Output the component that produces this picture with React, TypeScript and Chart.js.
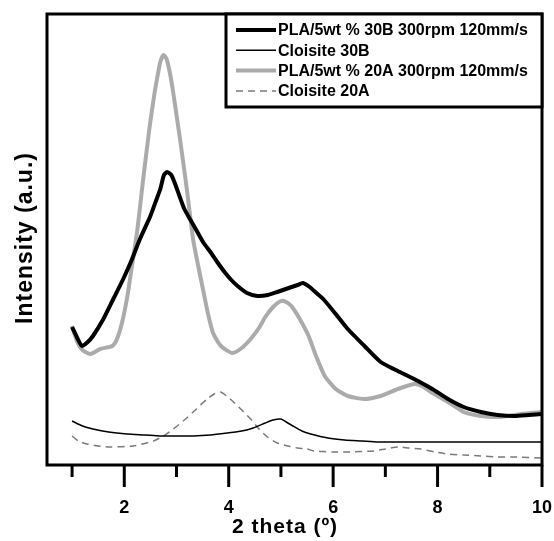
import { useEffect, useRef } from "react";
import { Chart, registerables } from "chart.js";

Chart.register(...registerables);

// 2 theta (deg) vs intensity (a.u.)
const pla30B: [number, number][] = [
  [1.0, 138], [1.1, 127], [1.19, 119], [1.3, 123], [1.4, 129], [1.6, 146], [1.79, 166], [1.98, 186],
  [2.15, 206], [2.3, 226], [2.5, 249], [2.62, 266], [2.69, 276], [2.76, 290], [2.82, 293], [2.9, 290], [2.96, 283],
  [3.05, 270], [3.15, 256], [3.28, 244], [3.4, 233], [3.52, 222], [3.65, 213], [3.78, 203], [3.92, 193],
  [4.05, 185], [4.17, 179], [4.35, 172], [4.55, 169], [4.75, 170], [4.93, 173], [5.15, 177], [5.32, 180],
  [5.42, 182], [5.55, 178], [5.68, 172], [5.81, 166], [6.05, 151], [6.28, 136], [6.6, 119], [6.91, 103],
  [7.2, 95], [7.55, 86], [7.9, 76], [8.2, 66], [8.5, 58], [8.83, 53], [9.15, 50], [9.47, 49], [9.75, 50], [10.0, 51],
];

const cloisite30B: [number, number][] = [
  [1.0, 44], [1.2, 39], [1.4, 36], [1.7, 33], [2.06, 31], [2.4, 30], [2.69, 29], [3.0, 29], [3.32, 29],
  [3.65, 30], [3.97, 32], [4.25, 34], [4.47, 37], [4.7, 42], [4.85, 45], [5.0, 46], [5.1, 43], [5.23, 39],
  [5.4, 34], [5.57, 31], [5.9, 27], [6.22, 25], [6.55, 24], [6.86, 23], [7.5, 23], [8.0, 23], [8.5, 23],
  [9.0, 23], [9.5, 23], [10.0, 23],
];

const pla20A: [number, number][] = [
  [1.0, 139], [1.1, 123], [1.2, 115], [1.35, 111], [1.54, 116], [1.77, 119], [1.86, 126], [1.96, 143],
  [2.06, 169], [2.15, 200], [2.25, 235], [2.36, 285], [2.49, 340], [2.58, 372], [2.63, 387], [2.69, 403],
  [2.75, 410], [2.81, 406], [2.87, 393], [2.93, 375], [3.0, 350], [3.07, 325], [3.2, 275], [3.32, 225],
  [3.42, 198], [3.51, 175], [3.6, 152], [3.7, 132], [3.85, 119], [4.07, 112], [4.25, 117], [4.42, 126],
  [4.58, 137], [4.7, 148], [4.85, 158], [5.0, 164], [5.1, 163], [5.2, 159], [5.35, 147], [5.53, 129],
  [5.68, 108], [5.84, 89], [6.05, 76], [6.28, 69], [6.59, 66], [6.91, 69], [7.24, 76], [7.55, 81],
  [7.7, 79], [7.87, 73], [8.2, 63], [8.5, 53], [8.83, 49], [9.2, 48], [9.6, 51], [10.0, 53],
];

const cloisite20A: [number, number][] = [
  [1.0, 29], [1.12, 24], [1.29, 21], [1.5, 19], [1.73, 18], [2.17, 19], [2.56, 24], [2.75, 29], [2.94, 36],
  [3.13, 44], [3.32, 53], [3.46, 60], [3.59, 66], [3.72, 71], [3.84, 73], [3.96, 69], [4.09, 63], [4.25, 55],
  [4.42, 46], [4.58, 36], [4.74, 28], [4.93, 22], [5.13, 19], [5.32, 17], [5.5, 16], [5.63, 14], [6.0, 13],
  [6.28, 13], [6.78, 14], [7.0, 16], [7.24, 18], [7.45, 17], [7.68, 16], [7.95, 13], [8.2, 11], [8.5, 10],
  [8.83, 9], [9.15, 8], [9.47, 8], [10.0, 7],
];

const xTickValues = [1, 2, 3, 4, 5, 6, 7, 8, 9, 10];
const xTickLabels = ["", "2", "", "4", "", "6", "", "8", "", "10"];

const seriesLabels = [
  "PLA/5wt % 30B 300rpm 120mm/s",
  "Cloisite 30B",
  "PLA/5wt % 20A 300rpm 120mm/s",
  "Cloisite 20A",
];

const FONT = "'Liberation Sans', Arial, sans-serif";

const decorPlugin = {
  id: "decor",
  afterDraw(chart: any) {
    const { ctx, chartArea: a, scales } = chart;
    const xs = scales.x;
    ctx.save();
    // frame
    ctx.strokeStyle = "#000";
    ctx.lineWidth = 3;
    ctx.strokeRect(a.left, a.top, a.right - a.left, a.bottom - a.top);
    // ticks
    ctx.lineCap = "butt";
    xTickValues.forEach((v, i) => {
      const px = xs.getPixelForValue(v);
      const major = xTickLabels[i] !== "";
      ctx.beginPath();
      ctx.moveTo(px, a.bottom);
      ctx.lineTo(px, a.bottom + (major ? 22 : 12));
      ctx.stroke();
      if (major) {
        ctx.fillStyle = "#000";
        ctx.font = `bold 18px ${FONT}`;
        ctx.textAlign = "center";
        ctx.textBaseline = "middle";
        ctx.fillText(xTickLabels[i], px, a.bottom + 43);
      }
    });
    // axis titles
    ctx.fillStyle = "#000";
    ctx.font = `bold 21px ${FONT}`;
    ctx.textAlign = "center";
    ctx.textBaseline = "middle";
    (ctx as any).letterSpacing = "1px";
    ctx.fillText("2 theta (º)", 285, a.bottom + 62);
    ctx.save();
    ctx.translate(26, 238);
    ctx.rotate(-Math.PI / 2);
    ctx.font = `bold 23px ${FONT}`;
    ctx.fillText("Intensity (a.u.)", 0, 0);
    ctx.restore();
    (ctx as any).letterSpacing = "0px";
    // legend
    const bx = 226, by = a.top, bw = a.right - bx, bh = 93;
    ctx.fillStyle = "#fff";
    ctx.fillRect(bx, by, bw, bh);
    ctx.lineWidth = 3;
    ctx.strokeStyle = "#000";
    ctx.strokeRect(bx, by, bw, bh);
    chart.data.datasets.forEach((ds: any, i: number) => {
      const y = by + 16 + i * 20.3;
      ctx.beginPath();
      ctx.strokeStyle = ds.borderColor;
      ctx.lineWidth = ds.borderWidth;
      ctx.setLineDash(ds.borderDash || []);
      ctx.moveTo(236, y);
      ctx.lineTo(276, y);
      ctx.stroke();
      ctx.setLineDash([]);
      ctx.fillStyle = "#000";
      ctx.font = `bold 16px ${FONT}`;
      ctx.textAlign = "left";
      ctx.textBaseline = "middle";
      ctx.fillText(ds.label, 278, y + 1);
    });
    ctx.restore();
  },
};

export default function App() {
  const ref = useRef<HTMLCanvasElement>(null);
  useEffect(() => {
    if (!ref.current) return;
    const toPts = (arr: [number, number][]) => arr.map(([x, y]) => ({ x, y }));
    const chart = new Chart(ref.current, {
      type: "line",
      data: {
        datasets: [
          { label: seriesLabels[0], data: toPts(pla30B), borderColor: "#000000", borderWidth: 4, pointRadius: 0, tension: 0.2 },
          { label: seriesLabels[1], data: toPts(cloisite30B), borderColor: "#000000", borderWidth: 1.5, pointRadius: 0, tension: 0.2 },
          { label: seriesLabels[2], data: toPts(pla20A), borderColor: "#ababab", borderWidth: 4, pointRadius: 0, tension: 0.2 },
          { label: seriesLabels[3], data: toPts(cloisite20A), borderColor: "#7a7a7a", borderWidth: 1.5, borderDash: [7, 5], pointRadius: 0, tension: 0.2 },
        ],
      },
      options: {
        responsive: false,
        animation: false,
        layout: { padding: { left: 47, top: 14, right: 12, bottom: 76 } },
        plugins: { legend: { display: false }, tooltip: { enabled: false } },
        scales: {
          x: { type: "linear", min: 0.52, max: 10, display: false },
          y: { type: "linear", min: 0, max: 451, display: false },
        },
      },
      plugins: [decorPlugin],
    });
    return () => chart.destroy();
  }, []);
  return (
    <div style={{ position: "fixed", left: 0, top: 0, width: 554, height: 541, background: "#fff" }}>
      <canvas ref={ref} width={554} height={541} />
    </div>
  );
}
